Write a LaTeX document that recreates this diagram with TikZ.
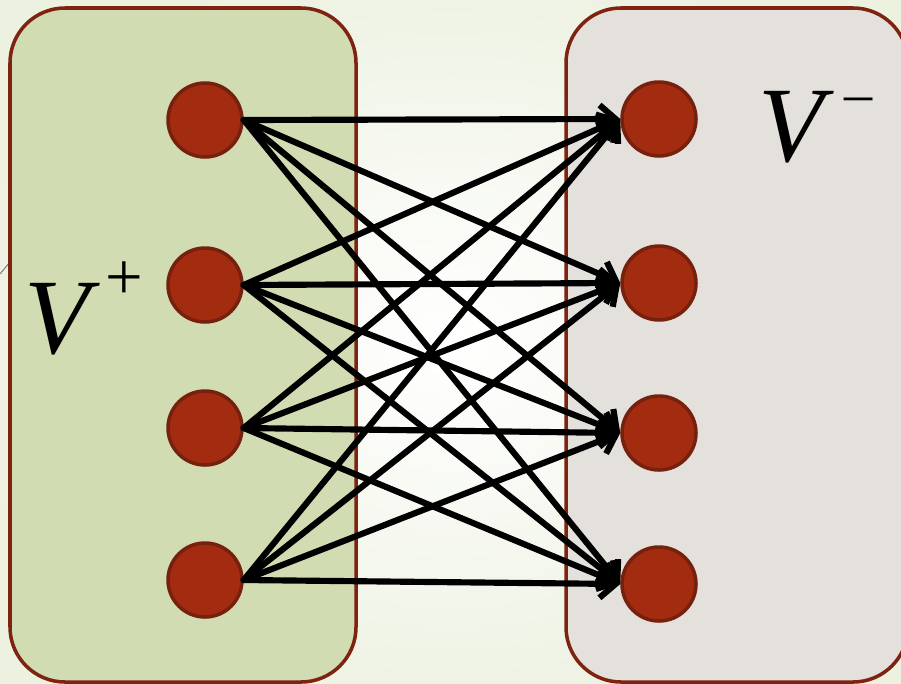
\documentclass[tikz,border=0pt]{standalone}
\usepackage{fontspec}
\setmainfont{Liberation Serif}
\usepackage{tikz}
\usetikzlibrary{arrows.meta}
\definecolor{bgout}{RGB}{236,241,224}
\definecolor{leftfill}{RGB}{210,220,178}
\definecolor{rightfill}{RGB}{228,225,220}
\definecolor{boxline}{RGB}{125,35,16}
\definecolor{dotfill}{RGB}{163,44,16}
\definecolor{dotline}{RGB}{118,33,14}
\tikzset{
  vertex/.style={circle,draw=dotline,line width=2pt,fill=dotfill,minimum size=1.48cm,inner sep=0pt},
  edge/.style={line width=3.5pt,line cap=round,-{Straight Barb[length=3.2mm,width=5.6mm,line width=3.5pt]}},
  side/.style={draw=boxline,line width=2pt,rounded corners=1.1cm}
}
\begin{document}
\begin{tikzpicture}[x=0.02cm,y=-0.02cm]

\useasboundingbox (0,0) rectangle (901,683);
\clip (0,0) rectangle (901,683);
\shade[inner color=white,outer color=bgout] (-60,-60) rectangle (961,743);
\draw[gray,line width=0.6pt] (0,274) -- (10,262);

\draw[side,fill=leftfill] (10,8) rectangle (356,682);
\draw[side,fill=rightfill] (566,8) rectangle (908,682);

\node[vertex] (l1) at (205,120) {};
\node[vertex] (l2) at (205,285) {};
\node[vertex] (l3) at (205,428) {};
\node[vertex] (l4) at (205,580) {};

\node[vertex] (r1) at (659,119) {};
\node[vertex] (r2) at (659,283) {};
\node[vertex] (r3) at (659,433) {};
\node[vertex] (r4) at (659,584) {};

\draw[edge] (l1.east) -- (r1.west);
\draw[edge] (l1.east) -- (r2.west);
\draw[edge] (l1.east) -- (r3.west);
\draw[edge] (l1.east) -- (r4.west);

\draw[edge] (l2.east) -- (r1.west);
\draw[edge] (l2.east) -- (r2.west);
\draw[edge] (l2.east) -- (r3.west);
\draw[edge] (l2.east) -- (r4.west);

\draw[edge] (l3.east) -- (r1.west);
\draw[edge] (l3.east) -- (r2.west);
\draw[edge] (l3.east) -- (r3.west);
\draw[edge] (l3.east) -- (r4.west);

\draw[edge] (l4.east) -- (r1.west);
\draw[edge] (l4.east) -- (r2.west);
\draw[edge] (l4.east) -- (r3.west);
\draw[edge] (l4.east) -- (r4.west);

\node[anchor=base west,inner sep=0pt] (vplus) at (24,353) {\fontsize{61}{61}\selectfont\textit{V}\hspace{0.05em}\raisebox{0.5em}{\fontsize{38}{38}\selectfont +}};
\node[anchor=base west,inner sep=0pt] (vminus) at (758,161) {\fontsize{61}{61}\selectfont\textit{V}\hspace{0.1em}\raisebox{0.45em}{\fontsize{32}{32}\selectfont \textendash}};

\end{tikzpicture}
\end{document}
